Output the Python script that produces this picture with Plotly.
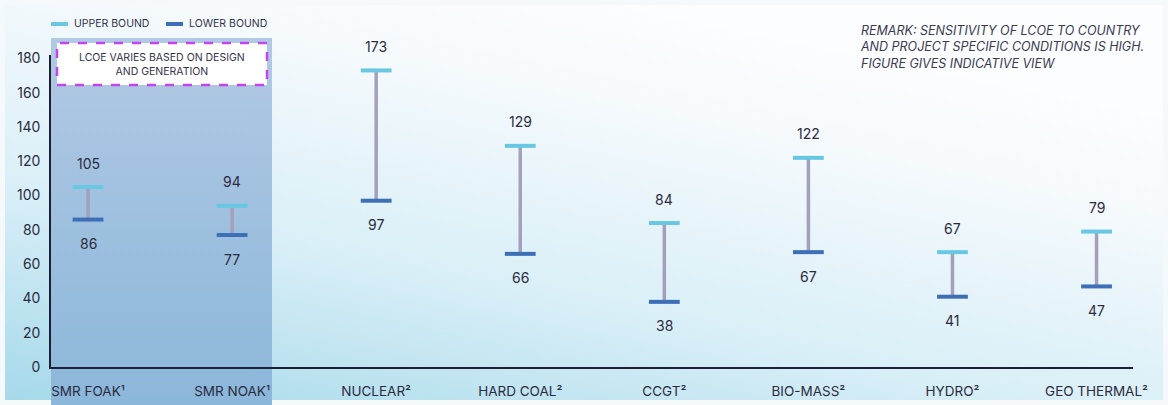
import base64
import plotly.graph_objects as go

# ---------------- data ----------------
categories = ["SMR FOAK¹", "SMR NOAK¹", "NUCLEAR²", "HARD COAL²",
              "CCGT²", "BIO-MASS²", "HYDRO²", "GEO THERMAL²"]
upper_bound = [105, 94, 173, 129, 84, 122, 67, 79]
lower_bound = [86, 77, 97, 66, 38, 67, 41, 47]
y_ticks = [0, 20, 40, 60, 80, 100, 120, 140, 160, 180]
series_names = ["UPPER BOUND", "LOWER BOUND"]

# ---------------- layout constants ----------------
W, H = 1168, 405
ML, MR, MT, MB = 51, 35, 55, 38
PW, PH = W - ML - MR, H - MT - MB
XR = [-0.257, 7.253]
YR = [0, 182]
UP_COLOR, LO_COLOR, CONN_COLOR = "#68c7e2", "#3d6fb6", "#a49fbb"
TEXT_COLOR = "#2b2b40"

def px_x(px):
    return (px - ML) / PW

def px_y(py):
    return (H - MB - py) / PH

def svg_uri(svg):
    return "data:image/svg+xml;base64," + base64.b64encode(svg.encode()).decode()

bg_svg = f"""<svg xmlns='http://www.w3.org/2000/svg' width='{W}' height='{H}' viewBox='0 0 {W} {H}' preserveAspectRatio='none'>
<defs><linearGradient id='g' x1='0' y1='1' x2='0.6' y2='0'>
<stop offset='0' stop-color='#a6d9ea'/><stop offset='0.4' stop-color='#d9eff7'/><stop offset='0.8' stop-color='#f6fafd'/><stop offset='1' stop-color='#fcfdfe'/>
</linearGradient></defs>
<rect width='{W}' height='{H}' fill='#f6f9fc'/>
<rect x='5' y='5' width='{W-10}' height='{H-10}' fill='url(#g)'/>
</svg>"""

shade_svg = """<svg xmlns='http://www.w3.org/2000/svg' width='100' height='100' viewBox='0 0 100 100' preserveAspectRatio='none'>
<defs><linearGradient id='s' x1='0' y1='0' x2='0' y2='1'>
<stop offset='0' stop-color='#b2c9e4'/><stop offset='1' stop-color='#8bb7da'/>
</linearGradient></defs>
<rect width='100' height='100' fill='url(#s)'/>
</svg>"""

shade_right = 1.277  # in category units
shade_x1 = (shade_right - XR[0]) / (XR[1] - XR[0])

fig = go.Figure()

# connectors
cx, cy = [], []
for c, lo, hi in zip(categories, lower_bound, upper_bound):
    cx += [c, c, None]
    cy += [lo, hi, None]
fig.add_trace(go.Scatter(x=cx, y=cy, mode="lines", line=dict(color=CONN_COLOR, width=3.5),
                         showlegend=False, hoverinfo="skip"))

fig.add_trace(go.Scatter(x=categories, y=upper_bound, mode="markers", name=series_names[0], showlegend=False,
                         marker=dict(symbol="line-ew", size=22, color=UP_COLOR,
                                     line=dict(width=4, color=UP_COLOR))))
fig.add_trace(go.Scatter(x=categories, y=lower_bound, mode="markers", name=series_names[1], showlegend=False,
                         marker=dict(symbol="line-ew", size=22, color=LO_COLOR,
                                     line=dict(width=4, color=LO_COLOR))))

annotations = []
for c, lo, hi in zip(categories, lower_bound, upper_bound):
    annotations.append(dict(x=c, y=hi, text=str(hi), showarrow=False, yshift=24,
                            font=dict(size=14, color=TEXT_COLOR)))
    annotations.append(dict(x=c, y=lo, text=str(lo), showarrow=False, yshift=-24,
                            font=dict(size=14, color=TEXT_COLOR)))

annotations.append(dict(xref="paper", yref="paper", x=px_x(162), y=px_y(64), xanchor="center", yanchor="middle",
                        text="LCOE VARIES BASED ON DESIGN<br>AND GENERATION", showarrow=False,
                        font=dict(size=10.5, color="#33334a"), align="center"))
annotations.append(dict(xref="paper", yref="paper", x=px_x(858), y=px_y(21), xanchor="left", yanchor="top",
                        text="<i>REMARK: SENSITIVITY OF LCOE TO COUNTRY<br>AND PROJECT SPECIFIC CONDITIONS IS HIGH.<br>FIGURE GIVES INDICATIVE VIEW</i>",
                        showarrow=False, align="left", font=dict(size=12.5, color="#3a3a52")))

# manual legend
shapes = []
legend_items = [(series_names[0], UP_COLOR, 51), (series_names[1], LO_COLOR, 166)]
for name, col, x0 in legend_items:
    shapes.append(dict(type="line", xref="paper", yref="paper", x0=px_x(x0), x1=px_x(x0 + 17),
                       y0=px_y(24), y1=px_y(24), line=dict(color=col, width=4)))
    annotations.append(dict(xref="paper", yref="paper", x=px_x(x0 + 21), y=px_y(24), xanchor="left",
                            yanchor="middle", text=name, showarrow=False,
                            font=dict(size=10.5, color="#33334a")))

shapes.append(dict(type="rect", xref="paper", yref="paper", x0=px_x(57), x1=px_x(267), y0=px_y(85), y1=px_y(43),
                   fillcolor="white", line=dict(color="#c444f2", width=2.5, dash="dash"), layer="above"))

fig.update_layout(
    width=W, height=H,
    margin=dict(l=ML, r=MR, t=MT, b=MB, autoexpand=False),
    paper_bgcolor="white", plot_bgcolor="rgba(0,0,0,0)",
    font=dict(family="Inter, Roboto, sans-serif", color=TEXT_COLOR),
    images=[
        dict(source=svg_uri(bg_svg), xref="paper", yref="paper", x=-ML / PW, y=(H - MB) / PH,
             sizex=W / PW, sizey=H / PH, sizing="stretch", layer="below", xanchor="left", yanchor="top"),
        dict(source=svg_uri(shade_svg), xref="paper", yref="paper", x=0, y=px_y(38),
             sizex=shade_x1, sizey=px_y(38) - px_y(H), sizing="stretch", layer="below",
             xanchor="left", yanchor="top"),
    ],
    shapes=shapes,
    annotations=annotations,
    xaxis=dict(range=XR, showgrid=False, zeroline=False, showline=True, linecolor="#1e1e36", linewidth=1.5,
               ticks="", tickfont=dict(size=13.5, color=TEXT_COLOR), ticklabelstandoff=11, automargin=False),
    yaxis=dict(range=YR, tickvals=y_ticks, showgrid=False, zeroline=False, showline=True,
               linecolor="#1e1e36", linewidth=1.5, ticks="", tickfont=dict(size=14, color=TEXT_COLOR),
               ticklabelstandoff=6, automargin=False),
    showlegend=False,
)

fig.write_html("out.html", config={"displayModeBar": False},
               post_script="document.body.style.margin='0';document.body.style.overflow='hidden';")
